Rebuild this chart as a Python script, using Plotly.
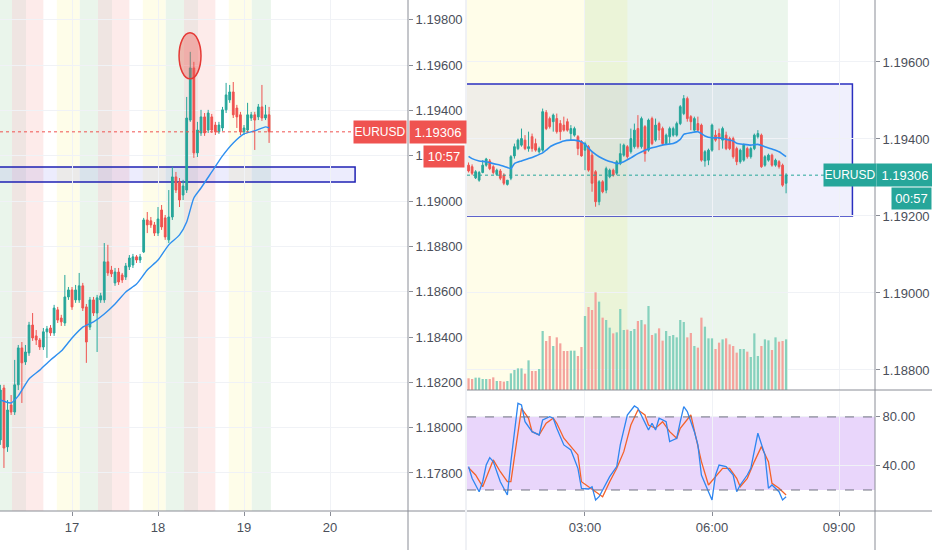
# grafico_eurusd.py

# %% 1. IMPORTACIONES
import pandas as pd
import plotly.graph_objects as go

# %% 2. DATOS
# --- A. PANEL IZQUIERDO: VELAS DE 1 HORA ---
INICIO_1H = "2020-08-16 04:00"

apertura_1h = [
    1.17946, 1.18175, 1.17915, 1.18100, 1.18069, 1.18189, 1.18352, 1.18290, 1.18330, 1.18453,
    1.18405, 1.18387, 1.18356, 1.18423, 1.18440, 1.18418, 1.18520, 1.18484, 1.18462, 1.18577,
    1.18608, 1.18564, 1.18564, 1.18626, 1.18533, 1.18444, 1.18564, 1.18506, 1.18564, 1.18564,
    1.18732, 1.18696, 1.18639, 1.18687, 1.18674, 1.18665, 1.18710, 1.18718, 1.18754, 1.18740,
    1.18776, 1.18917, 1.18913, 1.18895, 1.18859, 1.18961, 1.18926, 1.18829, 1.18930, 1.19107,
    1.19085, 1.19027, 1.19049, 1.19358, 1.19588, 1.19213, 1.19301, 1.19372, 1.19314, 1.19372,
    1.19336, 1.19306, 1.19323, 1.19403, 1.19447, 1.19482, 1.19411, 1.19381, 1.19306, 1.19314,
    1.19367, 1.19381, 1.19372, 1.19416, 1.19367, 1.19381,
]
maximo_1h = [
    1.18189, 1.18189, 1.18122, 1.18144, 1.18299, 1.18365, 1.18378, 1.18365, 1.18467, 1.18506,
    1.18431, 1.18396, 1.18440, 1.18449, 1.18453, 1.18542, 1.18533, 1.18498, 1.18674, 1.18621,
    1.18621, 1.18630, 1.18683, 1.18639, 1.18546, 1.18577, 1.18577, 1.18586, 1.18595, 1.18815,
    1.18807, 1.18714, 1.18705, 1.18705, 1.18683, 1.18727, 1.18762, 1.18767, 1.18762, 1.18767,
    1.18926, 1.18952, 1.18930, 1.18908, 1.18974, 1.18983, 1.18939, 1.19049, 1.19151, 1.19129,
    1.19102, 1.19094, 1.19460, 1.19659, 1.19615, 1.19350, 1.19403, 1.19389, 1.19403, 1.19385,
    1.19350, 1.19350, 1.19416, 1.19522, 1.19513, 1.19526, 1.19425, 1.19394, 1.19336, 1.19434,
    1.19394, 1.19394, 1.19429, 1.19513, 1.19425, 1.19416,
]
minimo_1h = [
    1.17924, 1.17822, 1.17893, 1.18056, 1.18056, 1.18166, 1.18109, 1.18277, 1.18317, 1.18383,
    1.18365, 1.18343, 1.18343, 1.18308, 1.18405, 1.18405, 1.18462, 1.18449, 1.18449, 1.18564,
    1.18520, 1.18551, 1.18551, 1.18515, 1.18286, 1.18431, 1.18493, 1.18334, 1.18551, 1.18551,
    1.18670, 1.18665, 1.18626, 1.18630, 1.18639, 1.18652, 1.18696, 1.18705, 1.18727, 1.18727,
    1.18771, 1.18859, 1.18882, 1.18846, 1.18846, 1.18873, 1.18829, 1.18815, 1.18917, 1.19036,
    1.18974, 1.19005, 1.19036, 1.19350, 1.19191, 1.19195, 1.19288, 1.19288, 1.19301, 1.19301,
    1.19292, 1.19297, 1.19310, 1.19389, 1.19434, 1.19367, 1.19323, 1.19292, 1.19292, 1.19301,
    1.19354, 1.19226, 1.19358, 1.19354, 1.19358, 1.19257,
]
cierre_1h = [
    1.18166, 1.17910, 1.18078, 1.18069, 1.18189, 1.18352, 1.18286, 1.18334, 1.18453, 1.18396,
    1.18387, 1.18356, 1.18423, 1.18436, 1.18418, 1.18528, 1.18475, 1.18467, 1.18577, 1.18608,
    1.18533, 1.18608, 1.18626, 1.18528, 1.18378, 1.18564, 1.18506, 1.18573, 1.18582, 1.18732,
    1.18683, 1.18679, 1.18687, 1.18643, 1.18652, 1.18714, 1.18749, 1.18754, 1.18740, 1.18754,
    1.18917, 1.18895, 1.18895, 1.18859, 1.18921, 1.18886, 1.18842, 1.18930, 1.19107, 1.19049,
    1.19005, 1.19067, 1.19367, 1.19588, 1.19213, 1.19314, 1.19372, 1.19301, 1.19389, 1.19314,
    1.19306, 1.19336, 1.19403, 1.19469, 1.19482, 1.19381, 1.19372, 1.19306, 1.19323, 1.19381,
    1.19381, 1.19358, 1.19416, 1.19367, 1.19381, 1.19306,
]

# Media móvil (posición de la vela, valor)
media_1h_idx = [0, 3, 5, 8, 11, 14, 17, 20, 23, 26, 29, 32, 35, 38, 41, 44, 47, 50,
                52, 54, 56, 59, 62, 65, 68, 71, 74, 75]
media_1h = [1.18122, 1.18109, 1.18140, 1.18215, 1.18254, 1.18299, 1.18338, 1.18396,
            1.18444, 1.18467, 1.18502, 1.18546, 1.18599, 1.18634, 1.18696, 1.18740,
            1.18807, 1.18851, 1.18908, 1.19014, 1.19058, 1.19129, 1.19200, 1.19257,
            1.19297, 1.19310, 1.19328, 1.19323]

# --- B. PANEL DERECHO: VELAS DE 5 MINUTOS ---
INICIO_5M = "2020-08-19 00:15"

apertura_5m = [
    1.19332, 1.19328, 1.19299, 1.19293, 1.19313, 1.19332, 1.19343, 1.19328, 1.19308, 1.19317,
    1.19306, 1.19282, 1.19298, 1.19356, 1.19375, 1.19384, 1.19397, 1.19375, 1.19406, 1.19388,
    1.19367, 1.19371, 1.19469, 1.19453, 1.19445, 1.19453, 1.19440, 1.19436, 1.19445, 1.19414,
    1.19410, 1.19406, 1.19393, 1.19371, 1.19380, 1.19358, 1.19315, 1.19237, 1.19289, 1.19267,
    1.19302, 1.19319, 1.19311, 1.19336, 1.19358, 1.19380, 1.19367, 1.19380, 1.19427, 1.19380,
    1.19432, 1.19371, 1.19453, 1.19397, 1.19440, 1.19427, 1.19388, 1.19406, 1.19410, 1.19410,
    1.19440, 1.19466, 1.19505, 1.19458, 1.19423, 1.19440, 1.19436, 1.19343, 1.19345, 1.19371,
    1.19410, 1.19414, 1.19397, 1.19410, 1.19401, 1.19401, 1.19375, 1.19341, 1.19345, 1.19375,
    1.19354, 1.19375, 1.19406, 1.19410, 1.19332, 1.19345, 1.19358, 1.19332, 1.19341, 1.19332,
    1.19285,
]
maximo_5m = [
    1.19339, 1.19334, 1.19319, 1.19317, 1.19345, 1.19351, 1.19348, 1.19332, 1.19323, 1.19322,
    1.19311, 1.19293, 1.19358, 1.19388, 1.19401, 1.19427, 1.19410, 1.19419, 1.19414, 1.19401,
    1.19380, 1.19479, 1.19475, 1.19458, 1.19466, 1.19466, 1.19449, 1.19458, 1.19453, 1.19436,
    1.19432, 1.19410, 1.19397, 1.19393, 1.19384, 1.19367, 1.19319, 1.19293, 1.19293, 1.19328,
    1.19323, 1.19323, 1.19345, 1.19388, 1.19388, 1.19384, 1.19427, 1.19440, 1.19462, 1.19458,
    1.19436, 1.19453, 1.19458, 1.19453, 1.19445, 1.19432, 1.19414, 1.19432, 1.19432, 1.19445,
    1.19488, 1.19514, 1.19510, 1.19462, 1.19458, 1.19458, 1.19440, 1.19371, 1.19375, 1.19440,
    1.19423, 1.19427, 1.19432, 1.19419, 1.19406, 1.19406, 1.19380, 1.19375, 1.19388, 1.19380,
    1.19380, 1.19414, 1.19423, 1.19414, 1.19358, 1.19362, 1.19362, 1.19349, 1.19345, 1.19336,
    1.19311,
]
minimo_5m = [
    1.19313, 1.19306, 1.19296, 1.19289, 1.19311, 1.19328, 1.19319, 1.19308, 1.19304, 1.19293,
    1.19280, 1.19279, 1.19293, 1.19349, 1.19371, 1.19380, 1.19371, 1.19367, 1.19367, 1.19367,
    1.19362, 1.19367, 1.19423, 1.19427, 1.19419, 1.19414, 1.19397, 1.19419, 1.19419, 1.19397,
    1.19406, 1.19358, 1.19354, 1.19319, 1.19315, 1.19263, 1.19224, 1.19228, 1.19259, 1.19259,
    1.19298, 1.19302, 1.19306, 1.19332, 1.19354, 1.19349, 1.19362, 1.19375, 1.19375, 1.19375,
    1.19341, 1.19367, 1.19384, 1.19393, 1.19397, 1.19384, 1.19384, 1.19388, 1.19406, 1.19406,
    1.19436, 1.19462, 1.19445, 1.19423, 1.19419, 1.19419, 1.19341, 1.19328, 1.19332, 1.19367,
    1.19393, 1.19371, 1.19375, 1.19371, 1.19371, 1.19349, 1.19332, 1.19336, 1.19341, 1.19349,
    1.19349, 1.19371, 1.19401, 1.19325, 1.19328, 1.19341, 1.19328, 1.19328, 1.19323, 1.19276,
    1.19259,
]
cierre_5m = [
    1.19317, 1.19311, 1.19315, 1.19313, 1.19332, 1.19348, 1.19323, 1.19313, 1.19319, 1.19298,
    1.19285, 1.19293, 1.19354, 1.19380, 1.19397, 1.19401, 1.19375, 1.19380, 1.19375, 1.19371,
    1.19375, 1.19471, 1.19427, 1.19432, 1.19462, 1.19419, 1.19419, 1.19423, 1.19423, 1.19427,
    1.19427, 1.19375, 1.19356, 1.19388, 1.19319, 1.19285, 1.19237, 1.19289, 1.19263, 1.19323,
    1.19319, 1.19306, 1.19341, 1.19362, 1.19384, 1.19354, 1.19401, 1.19423, 1.19380, 1.19453,
    1.19362, 1.19449, 1.19388, 1.19436, 1.19423, 1.19388, 1.19410, 1.19427, 1.19427, 1.19440,
    1.19484, 1.19505, 1.19453, 1.19445, 1.19453, 1.19423, 1.19345, 1.19367, 1.19371, 1.19436,
    1.19397, 1.19401, 1.19427, 1.19375, 1.19375, 1.19354, 1.19341, 1.19371, 1.19384, 1.19354,
    1.19375, 1.19410, 1.19414, 1.19328, 1.19354, 1.19358, 1.19332, 1.19345, 1.19328, 1.19280,
    1.19306,
]
volumen_5m = [
    234, 220, 247, 247, 220, 220, 220, 253, 180, 180,
    167, 180, 333, 400, 433, 433, 327, 593, 380, 380,
    420, 1180, 980, 1080, 880, 1053, 933, 780, 780, 787,
    787, 680, 860, 1480, 1660, 1600, 1953, 1767, 1447, 1400,
    1247, 1133, 1153, 1620, 1200, 1207, 1180, 1220, 1380, 1400,
    1313, 1680, 1100, 1133, 1233, 987, 1180, 1080, 1100, 1053,
    1400, 1360, 1053, 1140, 880, 847, 1447, 1267, 1033, 1033,
    820, 947, 1013, 1033, 913, 880, 747, 820, 820, 767,
    660, 1133, 680, 880, 1013, 993, 800, 1053, 967, 980,
    1013,
]

media_5m_idx = [0, 1, 3, 5, 7, 9, 11, 12, 13, 15, 17, 19, 21, 22, 23, 25, 27, 29, 30, 32,
                33, 35, 37, 39, 41, 42, 44, 46, 48, 50, 52, 54, 56, 58, 60, 61, 63, 65, 66, 67,
                69, 71, 73, 75, 76, 78, 80, 82, 84, 86, 88, 90]
media_5m = [1.19355, 1.19349, 1.19343, 1.19341, 1.19336, 1.19332, 1.19326, 1.19323, 1.19336, 1.19343,
            1.19349, 1.19356, 1.19364, 1.19371, 1.19379, 1.19388, 1.19395, 1.19397, 1.19397, 1.19393,
            1.19386, 1.19367, 1.19354, 1.19345, 1.19339, 1.19336, 1.19341, 1.19351, 1.19362, 1.19371,
            1.19377, 1.19382, 1.19386, 1.19388, 1.19399, 1.19412, 1.19416, 1.19419, 1.19414, 1.19408,
            1.19403, 1.19403, 1.19399, 1.19395, 1.19389, 1.19386, 1.19384, 1.19386, 1.19380, 1.19374,
            1.19367, 1.19354]

# --- C. ESTOCÁSTICO (%K azul, %D naranja) ---
estoc_k_hora = ["00:15", "00:20", "00:30", "00:35", "00:40", "00:45", "00:50", "01:00", "01:10", "01:15",
                "01:25", "01:30", "01:35", "01:45", "01:55", "02:00", "02:10", "02:15", "02:20", "02:30",
                "02:40", "02:50", "02:55", "03:05", "03:10", "03:15", "03:20", "03:25", "03:35", "03:45",
                "03:50", "04:00", "04:10", "04:15", "04:20", "04:25", "04:30", "04:35", "04:40", "04:45",
                "04:55", "05:00", "05:10", "05:15", "05:20", "05:25", "05:35", "05:40", "05:45", "05:55",
                "06:00", "06:05", "06:10", "06:20", "06:30", "06:35", "06:40", "06:50", "06:55", "07:05",
                "07:15", "07:20", "07:25", "07:35", "07:40", "07:45"]
estoc_k = [39.2, 29.6, 18.6, 26.8, 40.5, 46.6, 43.3, 26.8, 15.9, 43.3,
           91.2, 89.8, 76.1, 67.9, 65.2, 77.5, 80.2, 78.9, 70.7, 57.0,
           52.9, 37.8, 21.4, 20.8, 22.7, 11.8, 14.5, 20.0, 30.9, 39.2,
           57.0, 81.6, 89.0, 87.1, 81.6, 76.1, 69.3, 74.8, 69.3, 78.9,
           76.1, 59.7, 62.5, 76.1, 88.5, 84.4, 67.9, 57.0, 32.3, 18.6,
           11.8, 32.3, 40.5, 39.2, 32.3, 18.6, 24.1, 32.3, 37.8, 66.6,
           48.8, 21.4, 24.1, 18.6, 11.8, 14.5]

estoc_d_hora = ["00:15", "00:25", "00:35", "00:45", "00:50", "01:00", "01:10", "01:15", "01:25", "01:30",
                "01:40", "01:45", "01:55", "02:05", "02:15", "02:20", "02:30", "02:40", "02:50", "02:55",
                "03:05", "03:15", "03:25", "03:35", "03:45", "03:55", "04:05", "04:15", "04:25", "04:30",
                "04:40", "04:50", "05:00", "05:10", "05:15", "05:30", "05:35", "05:45", "05:55", "06:05",
                "06:15", "06:25", "06:35", "06:40", "06:50", "07:00", "07:10", "07:20", "07:25", "07:35",
                "07:45"]
estoc_d = [38.3, 32.3, 22.7, 36.4, 44.7, 35.0, 26.8, 26.8, 67.9, 87.1,
           78.9, 67.9, 65.2, 74.8, 78.9, 74.8, 62.5, 55.6, 48.8, 26.8,
           22.7, 18.6, 14.5, 26.8, 37.8, 51.5, 73.4, 85.7, 81.6, 73.4,
           70.7, 76.1, 67.9, 62.5, 70.7, 81.6, 67.9, 43.3, 24.1, 30.9,
           37.8, 37.8, 29.6, 22.7, 29.6, 43.3, 55.6, 43.3, 25.5, 21.4,
           15.9]

# --- D. SESIONES DE MERCADO (fondos de color) ---
sesiones_1h = [
    ("2020-08-16 02:10", "2020-08-16 07:15", "#eaf5eb"),
    ("2020-08-16 07:15", "2020-08-16 11:10", "#efe5e2"),
    ("2020-08-16 11:10", "2020-08-16 16:00", "#fdebea"),
    ("2020-08-16 19:45", "2020-08-17 02:10", "#fefde9"),
    ("2020-08-17 02:10", "2020-08-17 07:15", "#eaf5eb"),
    ("2020-08-17 07:15", "2020-08-17 11:10", "#efe5e2"),
    ("2020-08-17 11:10", "2020-08-17 16:00", "#fdebea"),
    ("2020-08-17 19:45", "2020-08-18 02:10", "#fefde9"),
    ("2020-08-18 02:10", "2020-08-18 07:15", "#eaf5eb"),
    ("2020-08-18 07:15", "2020-08-18 11:10", "#efe5e2"),
    ("2020-08-18 11:10", "2020-08-18 16:00", "#fdebea"),
    ("2020-08-18 19:45", "2020-08-19 02:10", "#fefde9"),
    ("2020-08-19 02:10", "2020-08-19 07:30", "#eaf5eb"),
]
sesiones_5m = [
    ("2020-08-19 00:00", "2020-08-19 04:00", "rgba(255,235,59,0.11)"),
    ("2020-08-19 03:00", "2020-08-19 07:47:30", "rgba(76,175,80,0.11)"),
]

dias_texto = ["17", "18", "19", "20"]
dias_fecha = ["2020-08-17", "2020-08-18", "2020-08-19", "2020-08-20"]
horas_texto = ["03:00", "06:00", "09:00"]
horas_fecha = ["2020-08-19 03:00", "2020-08-19 06:00", "2020-08-19 09:00"]

# %% 3. CONFIGURACIÓN DE TEMA Y COLORES
W, H = 932, 550
VERDE = "#26a69a"
ROJO = "#ef5350"
VOL_VERDE = "#86d1bd"
VOL_ROJO = "#f4a39c"
AZUL_MEDIA = "#2e8ff0"
GRID = "#f0f2f6"
EJE = "#8a8d96"
TEXTO = "#4b4f5a"
FUENTE = "Liberation Sans, Arial, sans-serif"


def px_x(v):
    return v / W


def px_y(v):
    return 1 - v / H


t_1h = pd.date_range(INICIO_1H, periods=len(cierre_1h), freq="h")
t_5m = pd.date_range(INICIO_5M, periods=len(cierre_5m), freq="5min")

# %% 4. TRAZAS
fig = go.Figure()

# --- A. Velas 1h + media ---
fig.add_trace(go.Candlestick(
    x=t_1h, open=apertura_1h, high=maximo_1h, low=minimo_1h, close=cierre_1h,
    increasing=dict(line=dict(color=VERDE, width=1), fillcolor=VERDE),
    decreasing=dict(line=dict(color=ROJO, width=1), fillcolor=ROJO),
    whiskerwidth=0, xaxis="x", yaxis="y", hoverinfo="skip",
))
fig.add_trace(go.Scatter(
    x=t_1h[media_1h_idx], y=media_1h, mode="lines",
    line=dict(color=AZUL_MEDIA, width=1.4, shape="spline", smoothing=0.6),
    xaxis="x", yaxis="y", hoverinfo="skip",
))

# --- B. Volumen 5m (detrás de las velas) ---
colores_vol = [VOL_VERDE if c >= o else VOL_ROJO for o, c in zip(apertura_5m, cierre_5m)]
fig.add_trace(go.Bar(
    x=t_5m, y=volumen_5m, marker=dict(color=colores_vol, line=dict(width=0)),
    width=190000, xaxis="x2", yaxis="y3", hoverinfo="skip",
))

# --- C. Velas 5m + media ---
fig.add_trace(go.Candlestick(
    x=t_5m, open=apertura_5m, high=maximo_5m, low=minimo_5m, close=cierre_5m,
    increasing=dict(line=dict(color=VERDE, width=1), fillcolor=VERDE),
    decreasing=dict(line=dict(color=ROJO, width=1), fillcolor=ROJO),
    whiskerwidth=0, xaxis="x2", yaxis="y2", hoverinfo="skip",
))
fig.add_trace(go.Scatter(
    x=t_5m[media_5m_idx], y=media_5m, mode="lines",
    line=dict(color=AZUL_MEDIA, width=1.6, shape="spline", smoothing=0.6),
    xaxis="x2", yaxis="y2", hoverinfo="skip",
))

# --- D. Estocástico ---
fig.add_trace(go.Scatter(
    x=["2020-08-19 " + h for h in estoc_d_hora], y=estoc_d, mode="lines",
    line=dict(color="#f4622a", width=1.3), xaxis="x3", yaxis="y4", hoverinfo="skip",
))
fig.add_trace(go.Scatter(
    x=["2020-08-19 " + h for h in estoc_k_hora], y=estoc_k, mode="lines",
    line=dict(color="#2e86f0", width=1.3), xaxis="x3", yaxis="y4", hoverinfo="skip",
))

# %% 5. FORMAS: SESIONES, ZONAS, EJES
formas = []
for ini, fin, col in sesiones_1h:
    formas.append(dict(type="rect", xref="x", yref="y domain", x0=ini, x1=fin, y0=0, y1=1,
                       fillcolor=col, line=dict(width=0), layer="below"))
for ini, fin, col in sesiones_5m:
    formas.append(dict(type="rect", xref="x2", yref="y2 domain", x0=ini, x1=fin, y0=0, y1=1,
                       fillcolor=col, line=dict(width=0), layer="below"))

# zonas rectangulares azules
formas.append(dict(type="rect", xref="x", yref="y", x0="2020-08-15 12:00", x1="2020-08-20 07:00",
                   y0=1.19085, y1=1.19151, fillcolor="rgba(70,70,235,0.10)",
                   line=dict(color="#1f22b4", width=1.5), layer="below"))
formas.append(dict(type="rect", xref="x2", yref="y2", x0="2020-08-19 00:00", x1="2020-08-19 09:19",
                   y0=1.19200, y1=1.19543, fillcolor="rgba(70,70,235,0.08)",
                   line=dict(color="#2a2fc0", width=1.5), layer="below"))

# círculo rojo sobre el máximo
formas.append(dict(type="circle", xref="x", yref="y", x0="2020-08-18 05:52", x1="2020-08-18 12:00",
                   y0=1.19540, y1=1.19743, fillcolor="rgba(239,83,80,0.38)",
                   line=dict(color="#e53935", width=1.5), layer="above"))

# líneas de último precio
formas.append(dict(type="line", xref="x domain", yref="y", x0=0, x1=1,
                   y0=cierre_1h[-1], y1=cierre_1h[-1], line=dict(color=ROJO, width=1, dash="dot")))
formas.append(dict(type="line", xref="x2 domain", yref="y2", x0=0, x1=1,
                   y0=cierre_5m[-1], y1=cierre_5m[-1], line=dict(color=VERDE, width=1, dash="dot")))

# banda 20-80 del estocástico
formas.append(dict(type="rect", xref="x3 domain", yref="y4", x0=0, x1=1, y0=20, y1=80,
                   fillcolor="#e9d6fb", line=dict(width=0), layer="below"))
for nivel in (20, 80):
    formas.append(dict(type="line", xref="x3 domain", yref="y4", x0=0, x1=1, y0=nivel, y1=nivel,
                       line=dict(color="#6f7280", width=1, dash="dash")))

# bordes de los paneles
for x0, y0, x1, y1 in [(408, 0, 408, H), (0, 511, 465, 511), (875, 0, 875, H),
                       (467, 390, W, 390), (467, 511, W, 511)]:
    formas.append(dict(type="line", xref="paper", yref="paper",
                       x0=px_x(x0), x1=px_x(x1), y0=px_y(y0), y1=px_y(y1),
                       line=dict(color=EJE, width=1)))
formas.append(dict(type="line", xref="paper", yref="paper", x0=px_x(466), x1=px_x(466),
                   y0=0, y1=1, line=dict(color="#e0e3eb", width=1)))

# %% 6. ETIQUETAS DE PRECIO
etiquetas = []


def etiqueta(texto, x, y, yref, ancho, alto, color, xanchor, talla=13):
    etiquetas.append(dict(text=texto, x=x, y=y, xref="paper", yref=yref, xanchor=xanchor,
                          yanchor="middle", showarrow=False, width=ancho, height=alto,
                          bgcolor=color, borderpad=0, font=dict(color="white", size=talla)))


etiqueta("EURUSD", px_x(407), cierre_1h[-1], "y", 52, 22, ROJO, "right", 12)
etiqueta(f"{cierre_1h[-1]:.5f}", px_x(409), cierre_1h[-1], "y", 56, 22, ROJO, "left")
etiqueta("10:57", px_x(465), px_y(156), "paper", 40, 21, ROJO, "right")
etiqueta("EURUSD", px_x(823), cierre_5m[-1], "y2", 52, 22, VERDE, "left", 12)
etiqueta(f"{cierre_5m[-1]:.5f}", px_x(876), cierre_5m[-1], "y2", 56, 22, VERDE, "left")
etiqueta("00:57", 1, px_y(198), "paper", 39, 21, VERDE, "right")

# %% 7. DISEÑO DE EJES
eje_x = dict(showgrid=True, gridcolor=GRID, zeroline=False, showline=False,
             ticks="outside", ticklen=4, tickcolor=EJE, rangeslider=dict(visible=False),
             tickfont=dict(size=13, color=TEXTO))
eje_y = dict(showgrid=True, gridcolor=GRID, zeroline=False, showline=False, side="right",
             ticks="outside", ticklen=4, tickcolor=EJE, tickfont=dict(size=13, color=TEXTO))

fig.update_layout(
    width=W, height=H, margin=dict(l=0, r=0, t=0, b=0),
    paper_bgcolor="white", plot_bgcolor="white",
    font=dict(family=FUENTE, color=TEXTO),
    showlegend=False, hovermode=False,
    xaxis=dict(eje_x, domain=[0, px_x(408)], anchor="y",
               range=["2020-08-16 03:54", "2020-08-20 21:46"],
               tickvals=dias_fecha, ticktext=dias_texto),
    yaxis=dict(eje_y, domain=[px_y(511), 1], anchor="x", range=[1.17632, 1.19888],
               tick0=1.178, dtick=0.002, tickformat=".5f"),
    xaxis2=dict(eje_x, domain=[px_x(467), px_x(875)], anchor="y2",
                range=["2020-08-19 00:12:47", "2020-08-19 09:51"],
                tickvals=horas_fecha, showticklabels=False, ticks=""),
    yaxis2=dict(eje_y, domain=[px_y(390), 1], anchor="x2", range=[1.18748, 1.19761],
                tick0=1.188, dtick=0.002, tickformat=".5f"),
    yaxis3=dict(overlaying="y2", anchor="x2", range=[0, 7800], visible=False),
    xaxis3=dict(eje_x, domain=[px_x(467), px_x(875)], anchor="y4",
                range=["2020-08-19 00:12:47", "2020-08-19 09:51"],
                tickvals=horas_fecha, ticktext=horas_texto),
    yaxis4=dict(eje_y, domain=[px_y(511), px_y(391)], anchor="x3", range=[2.74, 101.3],
                tickvals=[40, 80], ticktext=["40.00", "80.00"]),
    shapes=formas,
    annotations=etiquetas,
)

# %% 8. ESCRITURA EN DISCO
fig.write_html("out.html", config={"displayModeBar": False},
               post_script="document.body.style.margin='0';")
